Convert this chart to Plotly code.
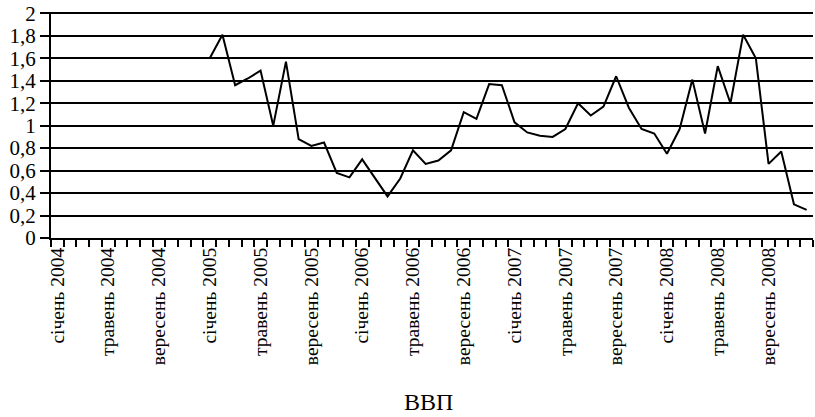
import plotly.graph_objects as go

month_names = ["січень", "лютий", "березень", "квітень", "травень", "червень",
               "липень", "серпень", "вересень", "жовтень", "листопад", "грудень"]
years = [2004, 2005, 2006, 2007, 2008]
months = [f"{m} {y}" for y in years for m in month_names]

# ВВП values (None where there is no data, 2004)
vvp = [None] * 12 + [
    1.60, 1.81, 1.36, 1.42, 1.49, 1.00, 1.57, 0.88, 0.82, 0.85, 0.58, 0.54,   # 2005
    0.70, 0.53, 0.37, 0.53, 0.78, 0.66, 0.69, 0.78, 1.12, 1.06, 1.37, 1.36,   # 2006
    1.03, 0.94, 0.91, 0.90, 0.97, 1.20, 1.09, 1.17, 1.44, 1.16, 0.97, 0.93,   # 2007
    0.75, 0.97, 1.41, 0.93, 1.53, 1.20, 1.81, 1.60, 0.66, 0.77, 0.30, 0.25,   # 2008
]

y_ticks = [0, 0.2, 0.4, 0.6, 0.8, 1, 1.2, 1.4, 1.6, 1.8, 2]
label_idx = list(range(0, len(months), 4))
label_text = [months[i] for i in label_idx]

x_idx = list(range(len(months)))

fig = go.Figure()
fig.add_trace(go.Scatter(
    x=x_idx, y=vvp, mode="lines",
    line=dict(color="black", width=2),
    connectgaps=False, showlegend=False, hoverinfo="skip",
))

font_family = "Liberation Serif, Times New Roman, serif"

fig.update_layout(
    width=815, height=417,
    margin=dict(l=51, r=2, t=12, b=179, autoexpand=False),
    paper_bgcolor="white", plot_bgcolor="white",
    separators=", ",
    font=dict(family=font_family, size=20, color="black"),
    showlegend=False,
    annotations=[dict(
        text="ВВП", xref="paper", yref="paper", x=0.495, y=-0.725,
        xanchor="center", yanchor="middle", showarrow=False,
        font=dict(family=font_family, size=24, color="black"),
    )],
)

fig.update_xaxes(
    range=[-0.5, len(months) - 0.5], automargin=False,
    tickmode="array", tickvals=label_idx, ticktext=label_text,
    tickangle=-90, ticks="", showgrid=False, zeroline=False,
    showline=True, linecolor="black", linewidth=2,
    tickfont=dict(family=font_family, size=19.5, color="black"),
    ticklabeloverflow="allow",
    minor=dict(tick0=-0.5, dtick=1, ticks="outside", ticklen=7,
               tickcolor="black", tickwidth=1.5, showgrid=False),
)

fig.update_yaxes(
    range=[0, 2.012], automargin=False, tickmode="array", tickvals=y_ticks,
    ticks="outside", ticklen=9, tickcolor="black", tickwidth=1.5,
    showgrid=True, gridcolor="black", gridwidth=1.5,
    zeroline=False, showline=True, linecolor="black", linewidth=2,
    tickfont=dict(family=font_family, size=21, color="black"),
    ticklabeloverflow="allow",
)

# remove the default 8px page margin so the 815x417 figure fills the window
fig.write_html(
    "out.html",
    config={"displayModeBar": False},
    post_script="document.body.style.margin='0';document.body.style.padding='0';",
)
